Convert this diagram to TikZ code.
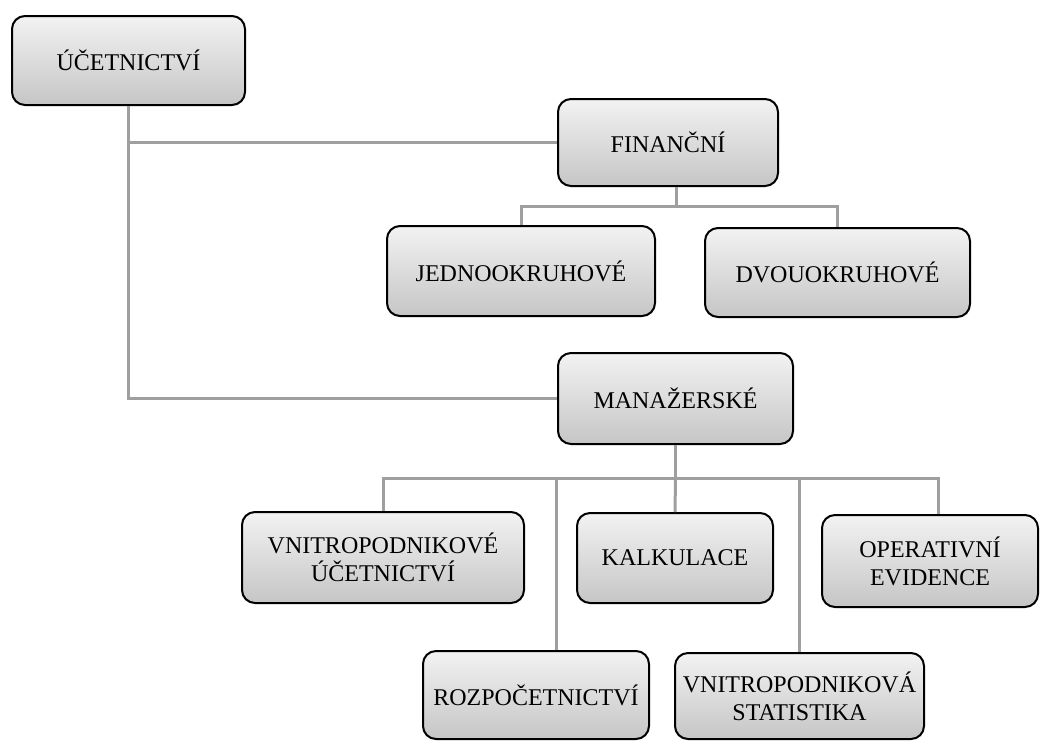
\documentclass[tikz,border=0pt]{standalone}
\usepackage{fontspec}
\setmainfont{Liberation Serif}
\usetikzlibrary{positioning}

\begin{document}
\begin{tikzpicture}[x=1pt, y=-1pt,
  box/.style={draw=black, line width=2pt, rounded corners=13pt,
    top color=gray!10, bottom color=gray!45, align=center,
    font=\fontsize{24}{28}\selectfont, inner sep=0pt},
  link/.style={draw=gray!75, line width=3pt}]
\useasboundingbox (0,0) rectangle (1043,740);

\def\ha{89}
\def\hb{91}

\node[box, minimum width=233pt, minimum height=\ha pt] (acc) at (128.5, 60.5) {ÚČETNICTVÍ};
\node[box, minimum width=220pt, minimum height=87pt] (fin) at (668, 142.5) {FINANČNÍ};
\node[box, minimum width=268pt, minimum height=90pt] (jed) at (521, 271) {JEDNOOKRUHOVÉ};
\node[box, minimum width=265pt, minimum height=\ha pt] (dvo) at (837.5, 272.5) {DVOUOKRUHOVÉ};
\node[box, minimum width=235pt, minimum height=\hb pt] (man) at (675.5, 398.5) {MANAŽERSKÉ};

\node[box, minimum width=282pt, minimum height=\hb pt] (vnu) at (383, 557.5) {VNITROPODNIKOVÉ\\ÚČETNICTVÍ};
\node[box, minimum width=196pt, minimum height=90pt] (kal) at (675, 558) {KALKULACE};
\node[box, minimum width=216pt, minimum height=92pt] (ope) at (930, 561) {OPERATIVNÍ\\EVIDENCE};
\node[box, minimum width=226pt, minimum height=88pt] (roz) at (536, 695) {ROZPOČETNICTVÍ};
\node[box, minimum width=249pt, minimum height=86pt] (sta) at (799.5, 696) {VNITROPODNIKOVÁ\\STATISTIKA};

% root
\draw[link] (acc.south) |- (fin.west);
\draw[link] (acc.south) |- (man.west);

% financni
\draw[link] ([xshift=8pt]fin.south) -- ++(0,19) coordinate (fb);
\draw[link] (jed.north) |- (fb) -| (dvo.north);

% manazerske
\draw[link] (man.south) -- ++(0,33) coordinate (mb);
\draw[link] (vnu.north) |- (mb) -| ([xshift=8pt]ope.north);
\draw[link] (mb) -- (kal.north);
\coordinate (rt) at ([xshift=20pt]roz.north);
\draw[link] (mb -| rt) -- (rt);
\draw[link] (mb -| sta.north) -- (sta.north);
\end{tikzpicture}
\end{document}
